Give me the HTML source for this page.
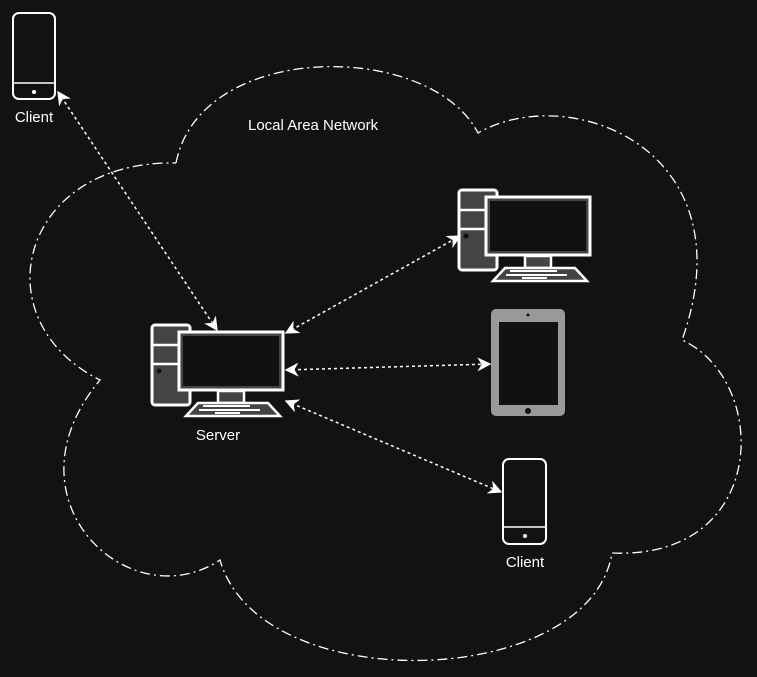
<!DOCTYPE html>
<html><head><style>
html,body{margin:0;padding:0;background:#121212;}
svg{display:block}
text{font-family:"Liberation Sans",sans-serif;fill:#fff;font-size:15px}
</style></head><body>
<svg width="757" height="677" viewBox="0 0 757 677" xmlns="http://www.w3.org/2000/svg">
<defs>
<marker id="a" viewBox="0 0 10 10" refX="9" refY="5" markerWidth="14" markerHeight="14" markerUnits="userSpaceOnUse" orient="auto-start-reverse">
<path d="M0,0 L10,5 L0,10 L3,5 Z" fill="#fff"/></marker>
<g id="pc">
<rect x="152" y="325" width="38" height="80" rx="3" fill="#444" stroke="#fff" stroke-width="3"/>
<line x1="152" y1="345" x2="190" y2="345" stroke="#fff" stroke-width="2.5"/>
<line x1="152" y1="364" x2="190" y2="364" stroke="#fff" stroke-width="2.5"/>
<circle cx="159" cy="371" r="2.5" fill="#111"/>
<rect x="179" y="332" width="104" height="58" fill="#444" stroke="#fff" stroke-width="3"/>
<rect x="183" y="336" width="96" height="50" fill="#111"/>
<rect x="218" y="391" width="26" height="12" fill="#444" stroke="#fff" stroke-width="2.5"/>
<polygon points="186,416 198,403 268,403 280,416" fill="#444" stroke="#fff" stroke-width="2.5"/>
<line x1="203" y1="406" x2="250" y2="406" stroke="#fff" stroke-width="2"/>
<line x1="199" y1="410" x2="260" y2="410" stroke="#fff" stroke-width="2"/>
<line x1="215" y1="413" x2="240" y2="413" stroke="#fff" stroke-width="2"/>
</g>
</defs>
<path d="M176,163 C200,40 430,40 478,133 C570,80 750,150 682,340 C770,380 770,560 612,553 C590,690 260,700 220,560 C130,620 0,500 100,380 C-20,320 20,160 176,163" fill="none" stroke="#fff" stroke-width="1.3" stroke-dasharray="10,4,2,4"/>
<text x="248" y="130">Local Area Network</text>
<use href="#pc"/>
<use href="#pc" transform="translate(307,-135)"/>
<text x="218" y="440" text-anchor="middle">Server</text>
<rect x="491" y="309" width="74" height="107" rx="5" fill="#999"/>
<rect x="499" y="322" width="59" height="83" fill="#111"/>
<circle cx="528" cy="315" r="1.5" fill="#111"/>
<circle cx="528" cy="411" r="3" fill="#111"/>
<rect x="13" y="13" width="42" height="86" rx="6" fill="none" stroke="#fff" stroke-width="2"/>
<line x1="13" y1="83" x2="55" y2="83" stroke="#fff" stroke-width="1.5"/>
<circle cx="34" cy="92" r="2" fill="#fff"/>
<text x="34" y="122" text-anchor="middle">Client</text>
<rect x="503" y="459" width="43" height="85" rx="6" fill="none" stroke="#fff" stroke-width="2"/>
<line x1="503" y1="527" x2="546" y2="527" stroke="#fff" stroke-width="1.5"/>
<circle cx="525" cy="536" r="2" fill="#fff"/>
<text x="525" y="567" text-anchor="middle">Client</text>
<g stroke="#fff" stroke-width="1.5" stroke-dasharray="3,3" fill="none">
<line x1="58" y1="92" x2="217" y2="330" marker-start="url(#a)" marker-end="url(#a)"/>
<line x1="286" y1="333" x2="460" y2="236" marker-start="url(#a)" marker-end="url(#a)"/>
<line x1="286" y1="370" x2="490" y2="364" marker-start="url(#a)" marker-end="url(#a)"/>
<line x1="286" y1="401" x2="501" y2="492" marker-start="url(#a)" marker-end="url(#a)"/>
</g>
</svg>
</body></html>
